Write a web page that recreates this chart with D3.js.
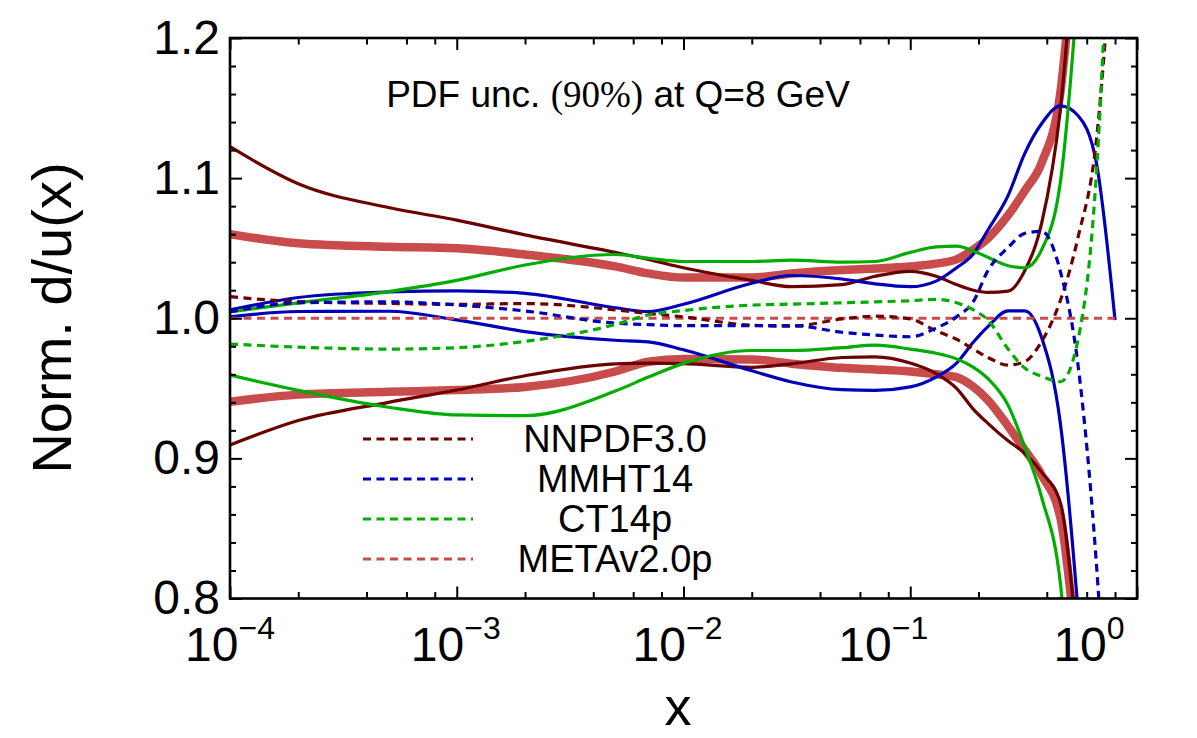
<!DOCTYPE html>
<html>
<head>
<meta charset="utf-8">
<script src="https://cdn.jsdelivr.net/npm/d3@7/dist/d3.min.js"></script>
<style>
  html, body { margin: 0; padding: 0; background: #ffffff; }
  svg { display: block; }
  text { font-family: "Liberation Sans", Arial, Helvetica, sans-serif; fill: #000; }
</style>
</head>
<body>
<svg id="chart" width="1197" height="738"></svg>
<script>
// Momentum fraction grid shared by every curve
const xVals = [1e-4, 2e-4, 5e-4, 1e-3, 2e-3, 5e-3, 7e-3, 1e-2, 2e-2, 3e-2, 5e-2, 7e-2,
               0.1, 0.13, 0.16, 0.19, 0.22, 0.27, 0.32, 0.38, 0.46, 0.55, 0.66, 0.8];

// NNPDF3.0: upper / lower 90% edges and central ratio
const nnpdfUp = [1.1224, 1.096, 1.079, 1.070, 1.0595, 1.047, 1.042, 1.036, 1.027, 1.0225, 1.024, 1.030,
                 1.0335, 1.030, 1.024, 1.020, 1.0185, 1.0194, 1.034, 1.068, 1.150, 1.30, 1.45, 1.6];
const nnpdfLo = [0.9095, 0.927, 0.940, 0.9488, 0.959, 0.9675, 0.968, 0.9676, 0.965, 0.9675, 0.972, 0.9725,
                 0.968, 0.9605, 0.950, 0.935, 0.925, 0.9125, 0.9036, 0.890, 0.868, 0.76, 0.6, 0.5];
const nnpdfC  = [1.0154, 1.0118, 1.0106, 1.0099, 1.0105, 1.006, 1.0034, 1.001, 0.995, 0.9943, 0.9995, 1.0015,
                 0.9995, 0.991, 0.985, 0.978, 0.972, 0.9666, 0.969, 0.9835, 1.013, 1.058, 1.125, 1.3];

// MMHT14
const mmhtUp = [1.0059, 1.0148, 1.0188, 1.0196, 1.0178, 1.0075, 1.0047, 1.010, 1.025, 1.0305, 1.028, 1.0245,
                1.0225, 1.0265, 1.036, 1.046, 1.063, 1.0875, 1.1177, 1.139, 1.1515, 1.1445, 1.112, 0.9987];
const mmhtLo = [1.001, 1.0048, 1.005, 0.9988, 0.9905, 0.9843, 0.9832, 0.9775, 0.9625, 0.9545, 0.949, 0.9485,
                0.951, 0.958, 0.968, 0.983, 0.994, 1.0053, 1.0053, 0.986, 0.924, 0.79, 0.6, 0.5];
const mmhtC  = [1.0046, 1.011, 1.0117, 1.0095, 1.0052, 0.9965, 0.9955, 0.9947, 0.9947, 0.9948, 0.990, 0.988,
                0.9868, 0.993, 1.001, 1.012, 1.034, 1.0505, 1.0606, 1.062, 1.033, 0.966, 0.828, 0.6];

// CT14p
const ctUp = [1.0046, 1.011, 1.019, 1.027, 1.038, 1.0455, 1.0428, 1.0405, 1.0405, 1.0415, 1.040, 1.0405,
              1.047, 1.051, 1.0515, 1.048, 1.0435, 1.0375, 1.036, 1.049, 1.098, 1.24, 1.45, 1.6];
const ctLo = [0.9594, 0.9485, 0.9365, 0.931, 0.9305, 0.948, 0.958, 0.9678, 0.977, 0.977, 0.979, 0.9808,
              0.978, 0.975, 0.971, 0.965, 0.957, 0.938, 0.908, 0.872, 0.81, 0.65, 0.5, 0.4];
const ctC  = [0.9816, 0.9794, 0.978, 0.979, 0.9835, 0.9955, 1.0023, 1.0055, 1.0094, 1.0101, 1.011, 1.0117,
              1.0125, 1.0135, 1.011, 1.006, 0.9987, 0.978, 0.9645, 0.9585, 0.9547, 0.985, 1.10, 1.40];

// METAv2.0p (normalisation reference)
const metaUp = [1.060, 1.0535, 1.051, 1.050, 1.0455, 1.037, 1.032, 1.029, 1.029, 1.032, 1.0345, 1.0355,
                1.037, 1.039, 1.042, 1.049, 1.057, 1.0735, 1.091, 1.111, 1.162, 1.30, 1.45, 1.6];
const metaLo = [0.9404, 0.9455, 0.9475, 0.9488, 0.951, 0.962, 0.969, 0.971, 0.9706, 0.9676, 0.9646, 0.9635,
                0.962, 0.960, 0.958, 0.951, 0.9416, 0.923, 0.906, 0.888, 0.857, 0.75, 0.6, 0.5];
const metaC  = [1, 1, 1, 1, 1, 1, 1, 1, 1, 1, 1, 1, 1, 1, 1, 1, 1, 1, 1, 1, 1, 1, 1, 1];

const legendNames = ["NNPDF3.0", "MMHT14", "CT14p", "METAv2.0p"];
const yTickValues = [0.8, 0.9, 1.0, 1.1, 1.2];
const xTickExponents = [-4, -3, -2, -1, 0];
const titleParts = ["PDF unc. ", "(90%)", " at Q=8 GeV"];
const xLabel = "x";
const yLabel = "Norm. d/u(x)";

// ---- layout ----
const svg = d3.select("#chart");
const plot = { left: 230, right: 1137, top: 38, bottom: 598.5 };

const x = d3.scaleLog().domain([1e-4, 1]).range([plot.left, plot.right]);
const y = d3.scaleLinear().domain([0.8, 1.2]).range([plot.bottom, plot.top]);

const colors = {
  nnpdf: "#6a0000",
  mmht: "#0000b8",
  ct: "#00ad00",
  meta: "#c84c4c"
};

svg.append("defs").append("clipPath").attr("id", "plotClip")
  .append("rect")
  .attr("x", plot.left).attr("y", plot.top)
  .attr("width", plot.right - plot.left).attr("height", plot.bottom - plot.top);

const line = d3.line()
  .x((d, i) => x(xVals[i]))
  .y(d => y(d))
  .curve(d3.curveMonotoneX);

const curves = svg.append("g").attr("clip-path", "url(#plotClip)");

function draw(values, color, width, dash) {
  const p = curves.append("path")
    .datum(values)
    .attr("d", line)
    .attr("fill", "none")
    .attr("stroke", color)
    .attr("stroke-width", width)
    .attr("stroke-linejoin", "round");
  if (dash) p.attr("stroke-dasharray", dash);
}

const DASH = "8 5.5";

// reference band first, the other sets on top
draw(metaUp, colors.meta, 8.5);
draw(metaLo, colors.meta, 8.5);
draw(nnpdfUp, colors.nnpdf, 3.2);
draw(nnpdfLo, colors.nnpdf, 3.2);
draw(mmhtUp, colors.mmht, 3.2);
draw(mmhtLo, colors.mmht, 3.2);
draw(ctUp, colors.ct, 3.2);
draw(ctLo, colors.ct, 3.2);
draw(metaC, colors.meta, 3.2, DASH);
draw(nnpdfC, colors.nnpdf, 3.2, DASH);
draw(mmhtC, colors.mmht, 3.2, DASH);
draw(ctC, colors.ct, 3.2, DASH);

// ---- axes: inward ticks on all four sides ----
const xMajor = xTickExponents.map(e => Math.pow(10, e));
const xMinor = [];
xTickExponents.slice(0, -1).forEach(e => [2, 4, 6, 8].forEach(m => xMinor.push(m * Math.pow(10, e))));
const yMinor = d3.range(0, 21).map(i => 0.8 + i * 0.02).filter(v => Math.abs(Math.round(v * 10) - v * 10) > 1e-6);

function tickAxis(axisFn, scale, values, size, transform) {
  const g = svg.append("g").attr("transform", transform)
    .call(axisFn(scale).tickValues(values).tickSize(-size).tickFormat(""));
  g.select(".domain").remove();
  g.selectAll(".tick line").attr("stroke", "#000").attr("stroke-width", 2);
}
tickAxis(d3.axisBottom, x, xMajor, 12, `translate(0,${plot.bottom})`);
tickAxis(d3.axisBottom, x, xMinor, 6.5, `translate(0,${plot.bottom})`);
tickAxis(d3.axisTop, x, xMajor, 12, `translate(0,${plot.top})`);
tickAxis(d3.axisTop, x, xMinor, 6.5, `translate(0,${plot.top})`);
tickAxis(d3.axisLeft, y, yTickValues, 12, `translate(${plot.left},0)`);
tickAxis(d3.axisLeft, y, yMinor, 6, `translate(${plot.left},0)`);
tickAxis(d3.axisRight, y, yTickValues, 12, `translate(${plot.right},0)`);
tickAxis(d3.axisRight, y, yMinor, 6, `translate(${plot.right},0)`);

svg.append("rect")
  .attr("x", plot.left).attr("y", plot.top)
  .attr("width", plot.right - plot.left).attr("height", plot.bottom - plot.top)
  .attr("fill", "none").attr("stroke", "#000").attr("stroke-width", 2.6);

// y tick labels
svg.append("g").selectAll("text").data(yTickValues).join("text")
  .attr("x", plot.left - 10)
  .attr("y", d => y(d) + 15.5)
  .attr("text-anchor", "end")
  .attr("font-size", 48)
  .text(d => d.toFixed(1));

// x tick labels as powers of ten
const xLabelShift = { "-4": 0, "-3": -1, "-2": -6, "-1": -27, "0": -48 };
const xl = svg.append("g").selectAll("text").data(xTickExponents).join("text")
  .attr("x", e => x(Math.pow(10, e)) + xLabelShift[e])
  .attr("y", 661)
  .attr("text-anchor", "middle")
  .attr("font-size", 48);
xl.append("tspan").text("10");
xl.append("tspan").attr("dy", -22).attr("font-size", 32)
  .text(e => e < 0 ? "\u2212" + Math.abs(e) : String(e));

// axis titles
svg.append("text")
  .attr("x", 678).attr("y", 725)
  .attr("text-anchor", "middle")
  .attr("font-size", 54)
  .text(xLabel);

svg.append("text")
  .attr("transform", "translate(71,318) rotate(-90)")
  .attr("text-anchor", "middle")
  .attr("font-size", 56)
  .text(yLabel);

// in-plot title
const title = svg.append("text")
  .attr("x", 618).attr("y", 106.5)
  .attr("text-anchor", "middle")
  .attr("font-size", 37);
title.append("tspan").text(titleParts[0]);
title.append("tspan").attr("font-family", "'Liberation Serif', 'Times New Roman', serif").text(titleParts[1]);
title.append("tspan").text(titleParts[2]);

// legend
const legendColors = [colors.nnpdf, colors.mmht, colors.ct, colors.meta];
const leg = svg.append("g").selectAll("g").data(legendNames).join("g")
  .attr("transform", (d, i) => `translate(0,${451.7 + i * 40})`);
leg.append("line")
  .attr("x1", 363).attr("x2", 473)
  .attr("y1", -12.7).attr("y2", -12.7)
  .attr("stroke", (d, i) => legendColors[i])
  .attr("stroke-width", 3.2)
  .attr("stroke-dasharray", DASH);
leg.append("text")
  .attr("x", 615).attr("y", 0)
  .attr("text-anchor", "middle")
  .attr("font-size", 38)
  .text(d => d);
</script>
</body>
</html>
